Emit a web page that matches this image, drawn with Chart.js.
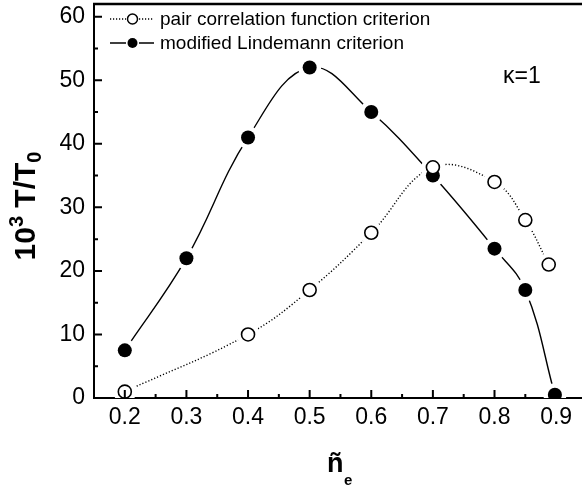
<!DOCTYPE html>
<html>
<head>
<meta charset="utf-8">
<script src="https://cdn.jsdelivr.net/npm/chart.js@4.4.1/dist/chart.umd.min.js"></script>
<style>
  html, body { margin: 0; padding: 0; background: #fff; }
  #wrap { width: 582px; height: 489px; }
</style>
</head>
<body>
<div id="wrap"><canvas id="chart" width="582" height="489"></canvas></div>
<script>
// data
const xTicks = [0.2, 0.3, 0.4, 0.5, 0.6, 0.7, 0.8, 0.9];
const yTicks = [0, 10, 20, 30, 40, 50, 60];
const xMinor = [0.25, 0.35, 0.45, 0.55, 0.65, 0.75, 0.85];
const yMinor = [5, 15, 25, 35, 45, 55];

const pairX = [0.2, 0.4, 0.5, 0.6, 0.7, 0.8, 0.85, 0.888];
const pairY = [1, 10, 17, 26, 36.3, 34, 28, 21];
const lindX = [0.2, 0.3, 0.4, 0.5, 0.6, 0.7, 0.8, 0.85, 0.898];
const lindY = [7.5, 22, 41, 52, 45, 35, 23.5, 17, 0.5];

const seriesNames = ['pair correlation function criterion', 'modified Lindemann criterion'];

const FONT = '"Liberation Sans", Arial, Helvetica, sans-serif';

const pts = (xs, ys) => xs.map((x, i) => ({ x: x, y: ys[i] }));

// inward ticks, top frame, legend, labels
const decor = {
  id: 'decor',
  afterDraw(chart) {
    const ctx = chart.ctx;
    const a = chart.chartArea;
    const sx = chart.scales.x, sy = chart.scales.y;
    ctx.save();
    ctx.strokeStyle = '#000';
    ctx.lineWidth = 2;
    ctx.beginPath();
    xTicks.forEach(v => { const p = sx.getPixelForValue(v); ctx.moveTo(p, a.bottom); ctx.lineTo(p, a.bottom - 8); });
    xMinor.forEach(v => { const p = sx.getPixelForValue(v); ctx.moveTo(p, a.bottom); ctx.lineTo(p, a.bottom - 4); });
    yTicks.forEach(v => { const p = sy.getPixelForValue(v); ctx.moveTo(a.left, p); ctx.lineTo(a.left + 8, p); });
    yMinor.forEach(v => { const p = sy.getPixelForValue(v); ctx.moveTo(a.left, p); ctx.lineTo(a.left + 4, p); });
    ctx.stroke();

    // top frame line
    ctx.lineWidth = 2.5;
    ctx.beginPath();
    ctx.moveTo(a.left - 1, a.top);
    ctx.lineTo(a.right, a.top);
    ctx.stroke();

    // legend
    const rows = [19, 43];
    ctx.font = '19px ' + FONT;
    ctx.textBaseline = 'middle';
    ctx.fillStyle = '#000';
    rows.forEach((y, i) => {
      ctx.lineWidth = 1.5;
      ctx.setLineDash(i === 0 ? [1.2, 1.8] : []);
      ctx.beginPath();
      ctx.moveTo(110, y); ctx.lineTo(126, y);
      ctx.moveTo(139, y); ctx.lineTo(154, y);
      ctx.stroke();
      ctx.setLineDash([]);
      ctx.beginPath();
      ctx.arc(132.5, y, 5, 0, Math.PI * 2);
      if (i === 0) { ctx.fillStyle = '#fff'; ctx.fill(); ctx.stroke(); }
      else { ctx.fillStyle = '#000'; ctx.fill(); }
      ctx.fillStyle = '#000';
      ctx.fillText(seriesNames[i], 160, y + 1);
    });

    // kappa label
    ctx.font = '23px ' + FONT;
    ctx.fillText('\u03ba=1', 503, 77);

    // y title: 10^3 T/T_0
    ctx.save();
    ctx.translate(35, 206);
    ctx.rotate(-Math.PI / 2);
    const parts = [
      ['10', 'bold 30px ' + FONT, 0],
      ['3', 'bold 20px ' + FONT, -12],
      [' T/T', 'bold 30px ' + FONT, 0],
      ['0', 'bold 20px ' + FONT, 6]
    ];
    let total = 0;
    parts.forEach(p => { ctx.font = p[1]; total += ctx.measureText(p[0]).width; });
    let cx = -total / 2;
    ctx.textBaseline = 'alphabetic';
    parts.forEach(p => { ctx.font = p[1]; ctx.fillText(p[0], cx, p[2]); cx += ctx.measureText(p[0]).width; });
    ctx.restore();

    // x title: n~ sub e
    ctx.textBaseline = 'alphabetic';
    ctx.font = 'bold 27px ' + FONT;
    ctx.fillText('\u00f1', 327, 472);
    ctx.font = 'bold 15px ' + FONT;
    ctx.fillText('e', 344, 485);
    ctx.restore();
  }
};

new Chart(document.getElementById('chart'), {
  type: 'line',
  data: {
    datasets: [
      {
        data: pts(pairX, pairY), showLine: false, order: 0,
        pointRadius: 6.5, pointBackgroundColor: '#fff', pointBorderColor: '#000', pointBorderWidth: 1.6
      },
      {
        data: pts(lindX, lindY), showLine: false, order: 0,
        pointRadius: 7, pointBackgroundColor: '#000', pointBorderColor: '#000', pointBorderWidth: 0
      },
      {
        // white halos give the small gap between curves and markers
        data: pts(pairX, pairY).concat(pts(lindX, lindY)), showLine: false, order: 1,
        pointRadius: 11.5, pointBackgroundColor: '#fff', pointBorderColor: '#fff', pointBorderWidth: 0
      },
      {
        data: pts(lindX, lindY), order: 2, borderColor: '#000', borderWidth: 1.4,
        tension: 0.4, pointRadius: 0, fill: false
      },
      {
        data: pts(pairX, pairY), order: 2, borderColor: '#000', borderWidth: 1.4,
        borderDash: [1.2, 2], tension: 0.4, pointRadius: 0, fill: false
      }
    ]
  },
  options: {
    responsive: false,
    animation: false,
    devicePixelRatio: 1,
    layout: { autoPadding: false, padding: { top: 4, right: 0, left: 0, bottom: 0 } },
    plugins: { legend: { display: false }, tooltip: { enabled: false } },
    scales: {
      x: {
        type: 'linear', min: 0.15, max: 0.942,
        afterBuildTicks: s => { s.ticks = xTicks.map(v => ({ value: v })); },
        afterFit: s => { s.height = 91; s.paddingLeft = 0; s.paddingRight = 0; },
        grid: { display: false, drawTicks: false },
        border: { display: true, color: '#000', width: 2 },
        ticks: { color: '#000', padding: 6, font: { family: FONT, size: 23 }, callback: v => v.toFixed(1) }
      },
      y: {
        type: 'linear', min: 0, max: 62,
        afterBuildTicks: s => { s.ticks = yTicks.map(v => ({ value: v })); },
        afterFit: s => { s.width = 94; s.paddingTop = 0; s.paddingBottom = 0; },
        grid: { display: false, drawTicks: false },
        border: { display: true, color: '#000', width: 2 },
        ticks: { color: '#000', padding: 9, font: { family: FONT, size: 23 } }
      }
    }
  },
  plugins: [decor]
});
</script>
</body>
</html>
